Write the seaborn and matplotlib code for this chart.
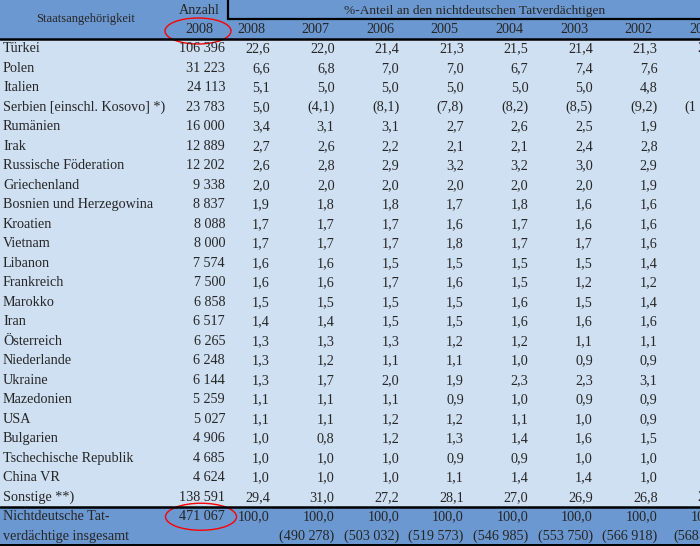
import matplotlib
matplotlib.use("Agg")
import matplotlib.pyplot as plt
import numpy as np
import seaborn as sns
from matplotlib.colors import ListedColormap
from matplotlib.patches import Ellipse

# ---- data -----------------------------------------------------------------
countries = [
    "Türkei", "Polen", "Italien", "Serbien [einschl. Kosovo] *)", "Rumänien",
    "Irak", "Russische Föderation", "Griechenland", "Bosnien und Herzegowina",
    "Kroatien", "Vietnam", "Libanon", "Frankreich", "Marokko", "Iran",
    "Österreich", "Niederlande", "Ukraine", "Mazedonien", "USA", "Bulgarien",
    "Tschechische Republik", "China VR", "Sonstige **)",
]
anzahl_2008 = [
    106396, 31223, 24113, 23783, 16000, 12889, 12202, 9338, 8837, 8088, 8000,
    7574, 7500, 6858, 6517, 6265, 6248, 6144, 5259, 5027, 4906, 4685, 4624,
    138591,
]
years = ["2008", "2007", "2006", "2005", "2004", "2003", "2002", "2001"]
pct = {
    "2008": [22.6, 6.6, 5.1, 5.0, 3.4, 2.7, 2.6, 2.0, 1.9, 1.7, 1.7, 1.6, 1.6,
             1.5, 1.4, 1.3, 1.3, 1.3, 1.1, 1.1, 1.0, 1.0, 1.0, 29.4],
    "2007": [22.0, 6.8, 5.0, 4.1, 3.1, 2.6, 2.8, 2.0, 1.8, 1.7, 1.7, 1.6, 1.6,
             1.5, 1.4, 1.3, 1.2, 1.7, 1.1, 1.1, 0.8, 1.0, 1.0, 31.0],
    "2006": [21.4, 7.0, 5.0, 8.1, 3.1, 2.2, 2.9, 2.0, 1.8, 1.7, 1.7, 1.5, 1.7,
             1.5, 1.5, 1.3, 1.1, 2.0, 1.1, 1.2, 1.2, 1.0, 1.0, 27.2],
    "2005": [21.3, 7.0, 5.0, 7.8, 2.7, 2.1, 3.2, 2.0, 1.7, 1.6, 1.8, 1.5, 1.6,
             1.5, 1.5, 1.2, 1.1, 1.9, 0.9, 1.2, 1.3, 0.9, 1.1, 28.1],
    "2004": [21.5, 6.7, 5.0, 8.2, 2.6, 2.1, 3.2, 2.0, 1.8, 1.7, 1.7, 1.5, 1.5,
             1.6, 1.6, 1.2, 1.0, 2.3, 1.0, 1.1, 1.4, 0.9, 1.4, 27.0],
    "2003": [21.4, 7.4, 5.0, 8.5, 2.5, 2.4, 3.0, 2.0, 1.6, 1.6, 1.7, 1.5, 1.2,
             1.5, 1.6, 1.1, 0.9, 2.3, 0.9, 1.0, 1.6, 1.0, 1.4, 26.9],
    "2002": [21.3, 7.6, 4.8, 9.2, 1.9, 2.8, 2.9, 1.9, 1.6, 1.6, 1.6, 1.4, 1.2,
             1.4, 1.6, 1.1, 0.9, 3.1, 0.9, 0.9, 1.5, 1.0, 1.0, 26.8],
}
# 2001 is cut off at the right edge; only the wide entries peek in.
# row -> (visible start of the entry, number of characters of the full entry)
pct_2001_partial = {0: ("2", 4), 3: ("(1", 6), 23: ("2", 4)}
# Serbia: values before 2008 are given in brackets
bracketed = {3: ["2007", "2006", "2005", "2004", "2003", "2002", "2001"]}
total_anzahl = 471067
total_abs = ["", "490 278", "503 032", "519 573", "546 985", "553 750",
             "566 918", "568"]

HEADER = "#6b98d0"
BODY = "#cfe0f2"


def fmt_int(v):
    return f"{v:,}".replace(",", " ")


def fmt_pct(v):
    return f"{v:.1f}".replace(".", ",")


sns.set_theme(style="white")
plt.rcParams["font.family"] = ["Liberation Serif", "DejaVu Serif"]

W, H = 700, 546
fig = plt.figure(figsize=(W / 100, H / 100), dpi=100)
ax = fig.add_axes([0, 0, 1, 1])

# background bands: 2 header rows, body rows, 2 total rows
n_body = len(countries)
band = np.array([0, 0] + [1] * n_body + [0, 0]).reshape(-1, 1)
sns.heatmap(band, cmap=ListedColormap([HEADER, BODY]), vmin=0, vmax=1,
            cbar=False, xticklabels=False, yticklabels=False, ax=ax)
n_rows = band.shape[0]


def px(x):
    return x / W


fs = 10.2
char_w = 6.3  # rough width of one character of the table font, in pixels
name_x = 3
anzahl_right = 225
pct_right = [270 + 64.6 * i for i in range(len(years))]
split_x = 228

# header
ax.text(px(86), 0.95, "Staatsangehörigkeit", fontsize=9, ha="center",
        va="center")
ax.text(px(199), 0.55, "Anzahl", fontsize=fs, ha="center", va="center")
ax.text(px(199), 1.5, "2008", fontsize=fs, ha="center", va="center")
ax.text(px((split_x + pct_right[-1]) / 2), 0.55,
        "%-Anteil an den nichtdeutschen Tatverdächtigen", fontsize=9.6,
        ha="center", va="center")
for yr, r in zip(years, pct_right):
    ax.text(px(r - 19), 1.5, yr, fontsize=fs, ha="center", va="center")

# body
for i, name in enumerate(countries):
    y = i + 2.5
    ax.text(px(name_x), y, name, fontsize=fs, va="center")
    ax.text(px(anzahl_right), y, fmt_int(anzahl_2008[i]), fontsize=fs,
            ha="right", va="center")
    for yr, r in zip(years, pct_right):
        if yr in pct:
            s = fmt_pct(pct[yr][i])
            if yr in bracketed.get(i, []):
                s = f"({s})"
            ax.text(px(r), y, s, fontsize=fs, ha="right", va="center")
        elif i in pct_2001_partial:
            s, n = pct_2001_partial[i]
            ax.text(px(r - n * char_w), y, s, fontsize=fs, ha="left",
                    va="center")

# total rows
y1, y2 = n_rows - 1.5, n_rows - 0.5
ax.text(px(name_x), y1, "Nichtdeutsche Tat-", fontsize=fs, va="center")
ax.text(px(name_x), y2, "verdächtige insgesamt", fontsize=fs, va="center")
ax.text(px(anzahl_right), y1, fmt_int(total_anzahl), fontsize=fs, ha="right",
        va="center")
for yr, r, s in zip(years, pct_right, total_abs):
    ax.text(px(r), y1, "100,0", fontsize=fs, ha="right", va="center")
    if yr == "2001":
        ax.text(px(r - 9 * char_w + 8), y2, "(" + s, fontsize=fs, ha="left",
                va="center")
    elif s:
        ax.text(px(r), y2, f"({s})", fontsize=fs, ha="right", va="center")

# rules
ax.plot([px(split_x), 1], [0.98, 0.98], color="black", lw=1.6)
ax.plot([px(split_x), px(split_x)], [0, 0.98], color="black", lw=1.6)
ax.axhline(2, color="black", lw=1.8)
ax.axhline(n_rows - 2, color="black", lw=1.8)
ax.axhline(n_rows - 0.03, color="black", lw=1.4)

# red highlight ellipses
ax.add_patch(Ellipse((px(198), 31 / 19.5), px(66), 26 / 19.5, fill=False,
                     edgecolor="red", lw=1))
ax.add_patch(Ellipse((px(201), n_rows - 1.5), px(71), 27 / 19.5, fill=False,
                     edgecolor="red", lw=1))

ax.set_xlim(0, 1)
ax.set_ylim(n_rows, 0)
ax.axis("off")

fig.savefig("out.png", dpi=100)
